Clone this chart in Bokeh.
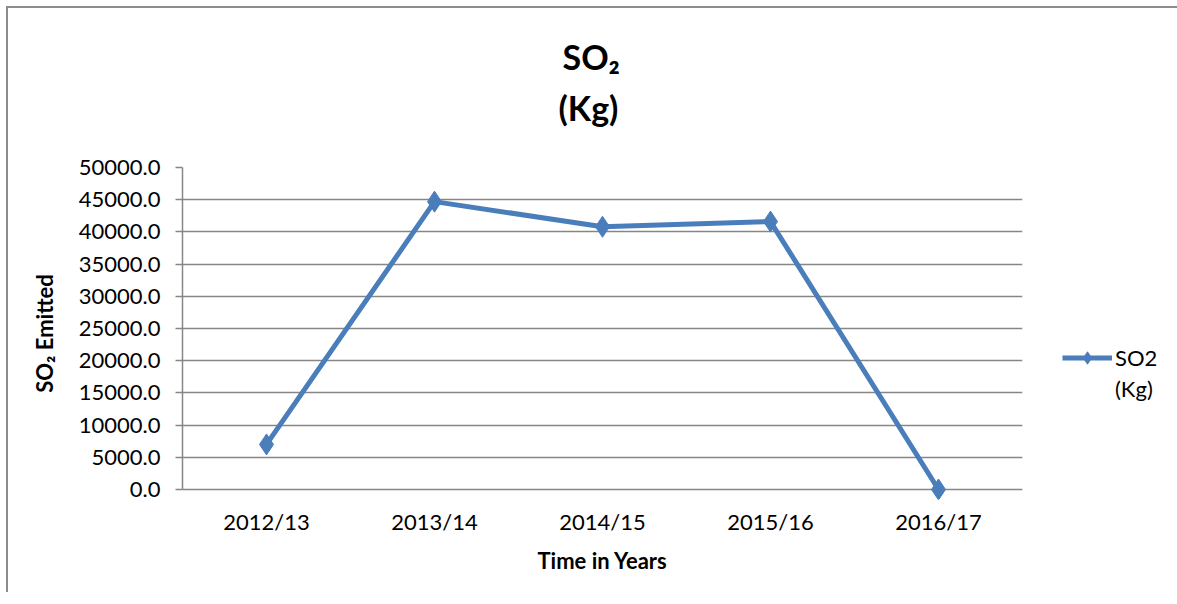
from bokeh.plotting import figure
from bokeh.models import Legend, LegendItem, NumeralTickFormatter, FixedTicker, Title
from bokeh.embed import file_html
from bokeh.resources import INLINE

years = ["2012/13", "2013/14", "2014/15", "2015/16", "2016/17"]
so2_kg = [7000.0, 44700.0, 40800.0, 41600.0, 0.0]
y_ticks = [0, 5000, 10000, 15000, 20000, 25000, 30000, 35000, 40000, 45000, 50000]

FONT = "Lato"
BLUE = "#4A7EBB"
GRAY = "#868686"

# a little room below zero so the last marker is not clipped by the frame
p = figure(x_range=years, y_range=(-1553, 50000), frame_width=840, frame_height=332,
           output_backend="svg", toolbar_location=None,
           min_border_left=174, min_border_right=145, min_border_top=159, min_border_bottom=93)
p.styles = {"border-left": "2px solid #8c8c8c", "border-top": "2px solid #8c8c8c",
            "margin-left": "6px", "margin-top": "6px"}
p.outline_line_color = None
p.background_fill_color = "white"
p.border_fill_color = "white"

line_r = p.line(years, so2_kg, line_color=BLUE, line_width=5)
pts_r = p.scatter(years, so2_kg, marker="diamond", size=21, fill_color=BLUE, line_color=BLUE)
blank_r = p.scatter([], [], marker="circle", size=1, fill_alpha=0, line_alpha=0)

# grid
p.xgrid.grid_line_color = None
p.ygrid.ticker = FixedTicker(ticks=y_ticks)
p.ygrid.grid_line_color = GRAY
p.ygrid.grid_line_width = 1.5

# y axis
ya = p.yaxis[0]
ya.ticker = FixedTicker(ticks=y_ticks)
ya.bounds = (0, 50000)
ya.formatter = NumeralTickFormatter(format="0.0")
ya.axis_line_color = GRAY
ya.axis_line_width = 1.5
ya.major_tick_line_color = GRAY
ya.major_tick_line_width = 1.5
ya.major_tick_out = 7
ya.major_tick_in = 0
ya.minor_tick_line_color = None
ya.major_label_text_font = FONT
ya.major_label_text_font_size = "22px"
ya.major_label_text_color = "black"
ya.major_label_standoff = 15
ya.axis_label = "SO\u2082 Emitted"
ya.axis_label_text_font = FONT
ya.axis_label_text_font_size = "22px"
ya.axis_label_text_font_style = "bold"
ya.axis_label_text_color = "black"
ya.axis_label_standoff = 18

# x axis (the zero grid line acts as the axis line)
xa = p.xaxis[0]
xa.axis_line_color = None
xa.major_tick_line_color = None
xa.major_tick_out = 0
xa.major_tick_in = 0
xa.minor_tick_line_color = None
xa.major_label_text_font = FONT
xa.major_label_text_font_size = "22px"
xa.major_label_text_color = "black"
xa.major_label_standoff = 8
xa.axis_label = "Time in Years"
xa.axis_label_text_font = FONT
xa.axis_label_text_font_size = "22px"
xa.axis_label_text_font_style = "bold"
xa.axis_label_text_color = "black"
xa.axis_label_standoff = 9

# two-line title, one Title per line
t_kg = Title(text="(Kg)", align="left", offset=376, text_font=FONT,
             text_font_size="34px", text_font_style="bold", text_color="black",
             standoff=80)
t_so2 = Title(text="SO\u2082", align="left", offset=380, text_font=FONT,
              text_font_size="34px", text_font_style="bold", text_color="black",
              standoff=-64)
p.add_layout(t_kg, "above")
p.add_layout(t_so2, "above")

# legend
legend = Legend(items=[LegendItem(label="SO2", renderers=[line_r, pts_r]),
                       LegendItem(label="(Kg)", renderers=[blank_r])],
                location=(40, 95), orientation="vertical",
                glyph_width=50, glyph_height=31, label_height=31, label_standoff=3,
                padding=0, spacing=0, margin=0,
                border_line_color=None, background_fill_alpha=0,
                label_text_font=FONT, label_text_font_size="22px", label_text_color="black")
p.add_layout(legend, "right")

open("out.html", "w").write(file_html(p, INLINE))
